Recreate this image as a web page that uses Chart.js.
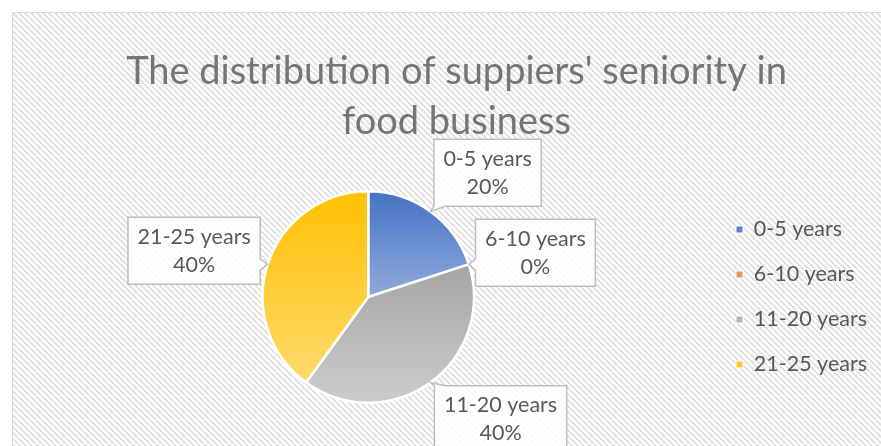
<!DOCTYPE html>
<html>
<head>
<meta charset="utf-8">
<script src="https://cdn.jsdelivr.net/npm/chart.js@4.4.1/dist/chart.umd.min.js"></script>
<style>
  html, body { margin: 0; padding: 0; background: #fff; overflow: hidden; }
  #wrap { position: absolute; left: 12px; top: 12px; }
</style>
</head>
<body>
<div id="wrap"><canvas id="chart" width="888" height="450"></canvas></div>
<script>
const categories = ["0-5 years", "6-10 years", "11-20 years", "21-25 years"];
const shares = [20, 0, 40, 40];
const titleLines = ["The distribution of suppiers' seniority in", "food business"];

const topColors = ["#4472C4", "#ED7D31", "#A5A5A5", "#FFC000"];
const bottomColors = ["#8FAADC", "#F4B183", "#CDCDCD", "#FFDA6E"];
const legendColors = ["#5B83CE", "#F0955A", "#B5B5B5", "#FFCB33"];
// how far each callout sits from the default spot, px
const calloutShift = [[16, 18], [0, 10], [29, -20], [-7, 8]];

const FONT = "Lato, 'Open Sans', sans-serif";
const TEXT = "#595959";
const LABEL_SIZE = 21.5;

// diagonal hatch used by the chart background
const tile = document.createElement("canvas");
tile.width = 6; tile.height = 6;
const tctx = tile.getContext("2d");
tctx.strokeStyle = "#E2E2E2";
tctx.lineWidth = 2.2;
for (let k = -1; k <= 1; k++) {
  tctx.beginPath();
  tctx.moveTo(k * 6, 0);
  tctx.lineTo(k * 6 + 6, 6);
  tctx.stroke();
}

const total = shares.reduce((a, b) => a + b, 0);

function sliceGradient(c) {
  const i = c.dataIndex;
  const area = c.chart.chartArea;
  if (!area || i === undefined) return topColors[i || 0];
  const cx = (area.left + area.right) / 2;
  const cy = (area.top + area.bottom) / 2;
  const r = Math.min(area.right - area.left, area.bottom - area.top) / 2;
  let before = 0;
  for (let k = 0; k < i; k++) before += shares[k];
  const a0 = before / total * 2 * Math.PI;
  const a1 = (before + shares[i]) / total * 2 * Math.PI;
  const ys = [cy, cy - r * Math.cos(a0), cy - r * Math.cos(a1)];
  [0, Math.PI, 2 * Math.PI].forEach(t => {
    if (t >= a0 && t <= a1) ys.push(cy - r * Math.cos(t));
  });
  const y0 = Math.min(...ys);
  const y1 = Math.max(Math.max(...ys), y0 + 1);
  const g = c.chart.ctx.createLinearGradient(0, y0, 0, y1);
  g.addColorStop(0, topColors[i]);
  g.addColorStop(1, bottomColors[i]);
  return g;
}

const backdrop = {
  id: "backdrop",
  afterLayout(chart) {
    // title is centred on the whole chart box, not just up to the legend
    if (chart.titleBlock) chart.titleBlock.left += 12;
  },
  beforeDraw(chart) {
    const { ctx, width, height } = chart;
    ctx.save();
    ctx.fillStyle = "#fff";
    ctx.fillRect(0, 0, width, height);
    ctx.fillStyle = ctx.createPattern(tile, "repeat");
    ctx.fillRect(0, 0, width, height);
    ctx.strokeStyle = "#D9D9D9";
    ctx.lineWidth = 1;
    ctx.strokeRect(0.5, 0.5, width - 1, height - 1);
    ctx.restore();
  }
};

function calloutPath(ctx, l, t, w, h, ax, ay, tail) {
  const r = l + w, b = t + h;
  const nx = (ax - (l + w / 2)) / (w / 2);
  const ny = (ay - (t + h / 2)) / (h / 2);
  ctx.beginPath();
  if (Math.abs(ny) >= Math.abs(nx)) {
    const sx = Math.min(Math.max(ax - tail / 2, l), r - tail);
    if (ny < 0) {
      ctx.moveTo(l, t); ctx.lineTo(sx, t); ctx.lineTo(ax, ay); ctx.lineTo(sx + tail, t);
      ctx.lineTo(r, t); ctx.lineTo(r, b); ctx.lineTo(l, b);
    } else {
      ctx.moveTo(l, t); ctx.lineTo(r, t); ctx.lineTo(r, b); ctx.lineTo(sx + tail, b);
      ctx.lineTo(ax, ay); ctx.lineTo(sx, b); ctx.lineTo(l, b);
    }
  } else {
    const sy = Math.min(Math.max(ay - tail / 2, t), b - tail);
    if (nx > 0) {
      ctx.moveTo(l, t); ctx.lineTo(r, t); ctx.lineTo(r, sy); ctx.lineTo(ax, ay);
      ctx.lineTo(r, sy + tail); ctx.lineTo(r, b); ctx.lineTo(l, b);
    } else {
      ctx.moveTo(l, t); ctx.lineTo(r, t); ctx.lineTo(r, b); ctx.lineTo(l, b);
      ctx.lineTo(l, sy + tail); ctx.lineTo(ax, ay); ctx.lineTo(l, sy);
    }
  }
  ctx.closePath();
}

const callouts = {
  id: "callouts",
  afterDatasetsDraw(chart) {
    const ctx = chart.ctx;
    const arcs = chart.getDatasetMeta(0).data;
    ctx.save();
    ctx.font = LABEL_SIZE + "px " + FONT;
    ctx.textAlign = "center";
    ctx.textBaseline = "middle";
    arcs.forEach((arc, i) => {
      const mid = (arc.startAngle + arc.endAngle) / 2;
      const ax = arc.x + Math.cos(mid) * arc.outerRadius;
      const ay = arc.y + Math.sin(mid) * arc.outerRadius;
      const dist = arc.outerRadius + 70;
      const bx = arc.x + Math.cos(mid) * dist + calloutShift[i][0];
      const by = arc.y + Math.sin(mid) * dist + calloutShift[i][1];
      const lines = [categories[i], Math.round(shares[i] / total * 100) + "%"];
      const w = Math.max(...lines.map(s => ctx.measureText(s).width)) + 19;
      const h = 67;
      calloutPath(ctx, bx - w / 2, by - h / 2, w, h, ax, ay, 11);
      ctx.fillStyle = "rgba(255,255,255,0.85)";
      ctx.fill();
      ctx.strokeStyle = "#BFBFBF";
      ctx.lineWidth = 1.5;
      ctx.stroke();
      ctx.fillStyle = TEXT;
      ctx.fillText(lines[0], bx, by - 14);
      ctx.fillText(lines[1], bx, by + 14);
    });
    ctx.restore();
  }
};

new Chart(document.getElementById("chart"), {
  type: "pie",
  data: {
    labels: categories,
    datasets: [{
      data: shares,
      backgroundColor: sliceGradient,
      borderColor: "#ffffff",
      borderWidth: 2.5
    }]
  },
  options: {
    responsive: false,
    animation: false,
    events: [],
    layout: { padding: { left: 12, right: 23, top: 0, bottom: 58 } },
    plugins: {
      title: {
        display: true,
        text: titleLines,
        color: "#757575",
        font: { family: FONT, size: 38, weight: "normal", lineHeight: 50 / 38 },
        padding: { top: 35, bottom: 43 }
      },
      legend: {
        position: "right",
        fullSize: false,
        labels: {
          color: TEXT,
          font: { family: FONT, size: LABEL_SIZE },
          boxWidth: 7,
          boxHeight: 7,
          padding: 23.5,
          generateLabels: () => categories.map((c, i) => ({
            text: c,
            fillStyle: legendColors[i],
            strokeStyle: "#ffffff",
            lineWidth: 1,
            fontColor: TEXT,
            hidden: false,
            index: i
          }))
        }
      },
      tooltip: { enabled: false }
    }
  },
  plugins: [backdrop, callouts]
});
</script>
</body>
</html>
